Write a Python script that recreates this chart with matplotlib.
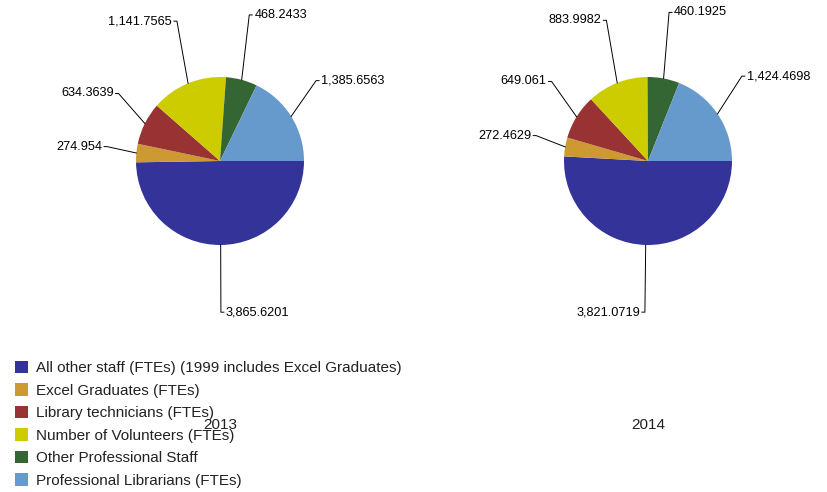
import numpy as np
import matplotlib
matplotlib.use("Agg")
import matplotlib.pyplot as plt
from matplotlib.patches import Patch

plt.rcParams['font.family'] = ['Liberation Sans', 'DejaVu Sans']

# data
categories = ["All other staff (FTEs) (1999 includes Excel Graduates)",
              "Excel Graduates (FTEs)",
              "Library technicians (FTEs)",
              "Number of Volunteers (FTEs)",
              "Other Professional Staff",
              "Professional Librarians (FTEs)"]
years = ["2013", "2014"]
values_2013 = [3865.6201, 274.954, 634.3639, 1141.7565, 468.2433, 1385.6563]
values_2014 = [3821.0719, 272.4629, 649.061, 883.9982, 460.1925, 1424.4698]

colors = ["#333399", "#cc9933", "#993333", "#cccc00", "#336633", "#6699cc"]

W, H = 827, 492
R = 84  # pie radius in px


def fmt(v):
    s = f"{v:,.4f}".rstrip('0').rstrip('.')
    return s


fig = plt.figure(figsize=(W / 100, H / 100), dpi=100)
ax = fig.add_axes([0, 0, 1, 1])

for cx, vals, yr in [(220, values_2013, years[0]), (648, values_2014, years[1])]:
    cy = H - 161
    wedges, _ = ax.pie(vals, colors=colors, startangle=0, counterclock=False,
                       radius=R, center=(cx, cy), wedgeprops=dict(linewidth=0))
    for w, v in zip(wedges, vals):
        a = np.deg2rad((w.theta1 + w.theta2) / 2)
        ex, ey = cx + R * np.cos(a), cy + R * np.sin(a)
        lx, ly = cx + 1.35 * R * np.cos(a), cy + 1.8 * R * np.sin(a)
        side = 1 if np.cos(a) >= 0 else -1
        ax.plot([ex, lx, lx + 3 * side], [ey, ly, ly], color='black', lw=0.7)
        ax.text(lx + 5 * side, ly, fmt(v), ha='left' if side > 0 else 'right',
                va='center', fontsize=9.2, color='black')
    ax.text(cx, H - 425, yr, ha='center', va='center', fontsize=11, color='#222222')

ax.set_xlim(0, W)
ax.set_ylim(0, H)
ax.set_aspect('equal')
ax.axis('off')

handles = [Patch(facecolor=c, edgecolor='none') for c in colors]
fig.legend(handles, categories, loc='upper left', bbox_to_anchor=(15 / W, 1 - 361 / H),
           frameon=False, fontsize=11, handlelength=0.85, handleheight=0.85,
           handletextpad=0.5, labelspacing=0.53, borderpad=0, borderaxespad=0,
           labelcolor='#222222')

fig.savefig("out.png", dpi=100)
